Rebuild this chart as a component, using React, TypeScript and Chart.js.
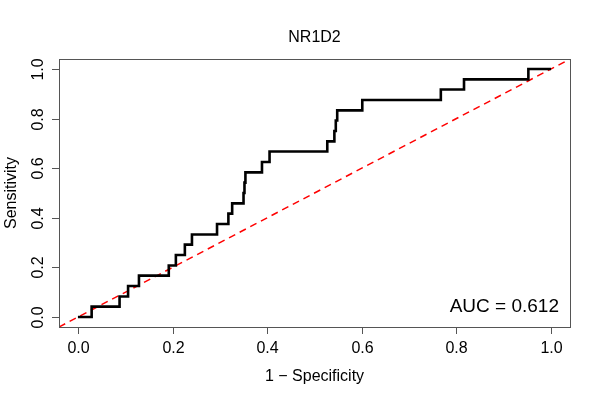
import React, { useEffect, useRef } from "react";
import { Chart, registerables } from "chart.js";

Chart.register(...registerables);

const TITLE = "NR1D2";
const X_TITLE = "1 \u2212 Specificity";
const Y_TITLE = "Sensitivity";
const AUC_LABEL = "AUC = 0.612";

// ROC curve corner points (1 - specificity, sensitivity)
const FPR = [0, 0.029, 0.088, 0.106, 0.129, 0.192, 0.207, 0.226, 0.241, 0.294, 0.318, 0.326, 0.35, 0.352, 0.354, 0.389, 0.405, 0.527, 0.542, 0.545, 0.548, 0.601, 0.767, 0.816, 0.952, 1.0];
const TPR = [0, 0.042, 0.083, 0.125, 0.167, 0.208, 0.25, 0.292, 0.333, 0.375, 0.417, 0.458, 0.5, 0.542, 0.583, 0.625, 0.667, 0.708, 0.75, 0.792, 0.833, 0.875, 0.917, 0.958, 1.0, 1.0];

// reference diagonal (clipped to the plot box)
const DIAG_X = [-0.04, 1.04];
const DIAG_Y = [-0.04, 1.04];

const X_TICKS = [0, 0.2, 0.4, 0.6, 0.8, 1.0];
const Y_TICKS = [0, 0.2, 0.4, 0.6, 0.8, 1.0];
const X_TICK_LABELS = ["0.0", "0.2", "0.4", "0.6", "0.8", "1.0"];
const Y_TICK_LABELS = ["0.0", "0.2", "0.4", "0.6", "0.8", "1.0"];

const FONT = "'Liberation Sans', Arial, Helvetica, sans-serif";

const axesPlugin = {
  id: "rAxes",
  afterDraw(chart: any) {
    const { ctx, chartArea } = chart;
    const xs = chart.scales.x;
    const ys = chart.scales.y;
    const { left, right, top, bottom } = chartArea;
    ctx.save();
    // box
    ctx.strokeStyle = "#555";
    ctx.lineWidth = 1;
    ctx.strokeRect(Math.round(left) + 0.5, Math.round(top) + 0.5, Math.round(right - left), Math.round(bottom - top));
    // x ticks
    ctx.fillStyle = "#000";
    ctx.font = `16px ${FONT}`;
    ctx.textAlign = "center";
    ctx.textBaseline = "middle";
    X_TICKS.forEach((v, i) => {
      const px = Math.round(xs.getPixelForValue(v)) + 0.5;
      ctx.beginPath();
      ctx.moveTo(px, bottom);
      ctx.lineTo(px, bottom + 7);
      ctx.stroke();
      ctx.fillText(X_TICK_LABELS[i], px, bottom + 22);
    });
    // y ticks
    Y_TICKS.forEach((v, i) => {
      const py = Math.round(ys.getPixelForValue(v)) + 0.5;
      ctx.beginPath();
      ctx.moveTo(left, py);
      ctx.lineTo(left - 7, py);
      ctx.stroke();
      ctx.save();
      ctx.translate(left - 20, py);
      ctx.rotate(-Math.PI / 2);
      ctx.fillText(Y_TICK_LABELS[i], 0, 0);
      ctx.restore();
    });
    // axis titles
    const cx = (left + right) / 2;
    const cy = (top + bottom) / 2;
    ctx.fillText(X_TITLE, cx, bottom + 50);
    ctx.save();
    ctx.translate(12, cy);
    ctx.rotate(-Math.PI / 2);
    ctx.fillText(Y_TITLE, 0, 0);
    ctx.restore();
    // main title
    ctx.fillText(TITLE, cx, 38);
    // AUC label
    ctx.font = `19px ${FONT}`;
    ctx.textAlign = "right";
    ctx.textBaseline = "alphabetic";
    ctx.fillText(AUC_LABEL, right - 11, bottom - 15);
    ctx.restore();
  },
};

export default function App() {
  const ref = useRef<HTMLCanvasElement>(null);
  useEffect(() => {
    if (!ref.current) return;
    const chart = new Chart(ref.current, {
      type: "line",
      data: {
        datasets: [
          {
            data: DIAG_X.map((x, i) => ({ x, y: DIAG_Y[i] })),
            borderColor: "#FF0000",
            borderWidth: 1.5,
            borderDash: [7, 5],
            pointRadius: 0,
            fill: false,
            order: 2,
          },
          {
            data: FPR.map((x, i) => ({ x, y: TPR[i] })),
            borderColor: "#000000",
            borderWidth: 2.6,
            stepped: true,
            pointRadius: 0,
            fill: false,
            order: 1,
          },
        ],
      },
      options: {
        animation: false,
        responsive: false,
        devicePixelRatio: 1,
        layout: { padding: { left: 59, right: 30, top: 59, bottom: 73 } },
        plugins: { legend: { display: false }, tooltip: { enabled: false }, title: { display: false } },
        scales: {
          x: { type: "linear", min: -0.04, max: 1.04, display: false },
          y: { type: "linear", min: -0.04, max: 1.04, display: false },
        },
      },
      plugins: [axesPlugin],
    });
    return () => chart.destroy();
  }, []);
  return (
    <div style={{ position: "fixed", left: 0, top: 0, width: 600, height: 400, background: "#fff" }}>
      <canvas ref={ref} width={600} height={400} style={{ width: 600, height: 400 }} />
    </div>
  );
}
